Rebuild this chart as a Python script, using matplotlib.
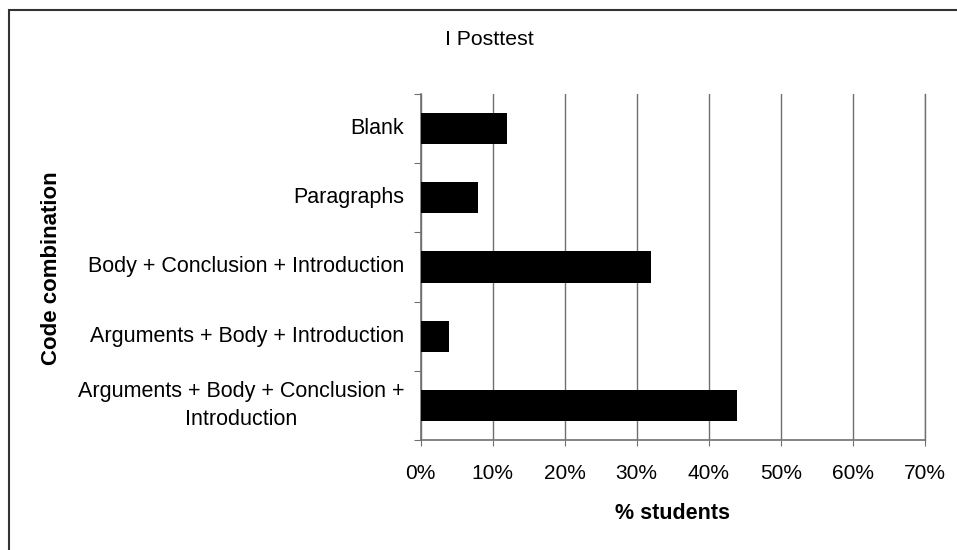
import matplotlib.pyplot as plt
from matplotlib.patches import Rectangle
import numpy as np

plt.rcParams['font.family'] = ['Liberation Sans', 'DejaVu Sans']

# data (bottom to top)
categories = ['Arguments + Body + Conclusion +\nIntroduction',
              'Arguments + Body + Introduction',
              'Body + Conclusion + Introduction',
              'Paragraphs',
              'Blank']
percent = [44, 4, 32, 8, 12]
xticks = [0, 10, 20, 30, 40, 50, 60, 70]

fig = plt.figure(figsize=(9.57, 5.5), dpi=100)
ax = fig.add_axes([0.4396, 0.2, 0.5266, 0.6291])

pos = np.arange(len(categories))
ax.barh(pos, percent, height=0.45, color='black', zorder=3)

ax.set_xlim(0, 70)
ax.set_ylim(-0.5, len(categories) - 0.5)

ax.set_xticks(xticks)
ax.set_xticklabels([str(t) + '%' for t in xticks], fontsize=15)
ax.tick_params(axis='x', direction='out', length=4, color='#707070', pad=13)
ax.grid(axis='x', color='#707070', linewidth=1.0, zorder=0)

# category labels sit between band ticks
ax.set_yticks(np.arange(-0.5, len(categories), 1.0))
ax.set_yticklabels([])
ax.tick_params(axis='y', direction='out', length=5, color='#707070')
for p, c in zip(pos, categories):
    ax.text(-0.033, p, c, transform=ax.get_yaxis_transform(), ha='right',
            va='center', multialignment='center', fontsize=15.5, linespacing=1.45)

ax.spines['top'].set_visible(False)
ax.spines['right'].set_color('#707070')
ax.spines['right'].set_linewidth(1.0)
for s in ['left', 'bottom']:
    ax.spines[s].set_color('#707070')
    ax.spines[s].set_linewidth(1.2)

fig.text(0.511, 0.928, 'I Posttest', ha='center', va='center', fontsize=15.3)
fig.text(0.7029, 0.067, '% students', ha='center', va='center', fontsize=15.5,
         fontweight='bold')
fig.text(0.0533, 0.5127, 'Code combination', ha='center', va='center',
         rotation=90, fontsize=16, fontweight='bold')

# outer frame
fig.patches.append(Rectangle((8.5 / 957, -0.1), 1.1, 1.1 - 10 / 550,
                             transform=fig.transFigure, fill=False,
                             edgecolor='#333333', linewidth=1.5))

fig.savefig('out.png', dpi=100)
